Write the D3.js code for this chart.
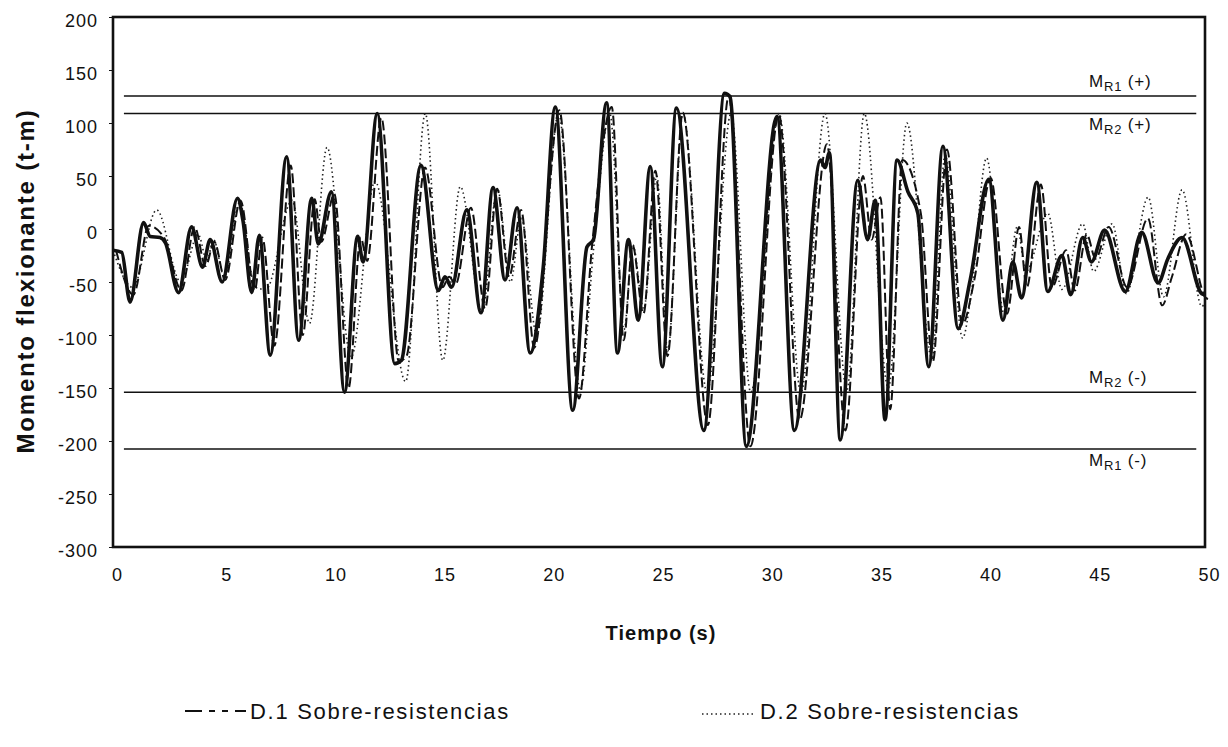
<!DOCTYPE html>
<html><head><meta charset="utf-8">
<script src="https://cdn.jsdelivr.net/npm/d3@7"></script>
<style>
body{margin:0;background:#fff;}
svg text{font-family:"Liberation Sans",Arial,Helvetica,sans-serif;fill:#111;}
</style>
</head><body>
<svg id="chart" width="1228" height="747"></svg>
<script>
// ---- data ----
const xTicks = [0,5,10,15,20,25,30,35,40,45,50];
const yTicks = [200,150,100,50,0,-50,-100,-150,-200,-250,-300];

// thick solid series
const timeA = [0,0.4,0.78,1.4,1.7,2.15,2.4,3.0,3.6,4.1,4.45,5.0,5.7,5.95,6.35,6.7,7.2,7.95,8.5,9.1,9.4,10.0,10.6,11.2,11.45,12.1,12.9,13.2,14.1,14.9,15.2,15.5,16.2,16.85,17.4,17.95,18.5,19.1,19.7,20.25,21.05,21.7,22.0,22.6,23.1,23.6,24.05,24.6,25.15,25.8,27.05,28.0,28.25,29.0,30.4,31.2,32.4,32.6,32.8,33.3,34.1,34.55,34.9,35.35,35.9,36.4,36.85,37.35,38.0,38.7,39.25,40.1,40.75,41.2,41.6,42.3,42.8,43.45,43.85,44.4,44.8,45.4,46.35,47.1,47.85,48.3,48.95,49.85,50];
const valA  = [-20,-22,-69,6,-7,-8,-13,-60,2,-36,-10,-50,29,8,-60,-6,-119,68,-105,29,-14,35,-154,-7,-31,109,-127,-124,60,-58,-45,-55,18,-79,39,-48,20,-117,-36,115,-171,-17,-10,119,-117,-10,-86,59,-130,114,-190,128,125,-205,106,-190,65,58,72,-199,46,-10,27,-180,65,35,15,-130,78,-94,-48,47,-86,-31,-65,44,-59,-25,-62,-8,-31,-1,-59,-3,-51,-28,-8,-61,-62];

// D.1 Sobre-resistencias (dashed)
const timeD1 = [0,0.8,1.5,2.2,3.0,3.6,4.1,4.5,5.0,5.7,6.35,6.7,7.25,8.0,8.55,9.1,9.4,10.0,10.65,11.2,11.5,12.15,12.95,13.3,14.15,14.95,15.25,15.55,16.25,16.9,17.45,18.0,18.55,19.15,20.3,21.2,21.8,22.7,23.25,23.65,24.15,24.7,25.25,25.95,27.1,28.05,29.05,30.35,31.3,32.55,33.4,34.2,34.6,35.0,35.45,36.0,36.85,37.4,38.05,38.75,39.3,40.05,40.8,41.35,41.7,42.35,42.85,43.5,43.9,44.45,44.85,45.45,46.3,47.25,47.9,48.35,49.0,49.9,50];
const valD1  = [-20,-62,3,-8,-58,2,-35,-12,-48,27,-58,-8,-110,60,-100,28,-12,33,-150,-8,-30,105,-125,-120,58,-55,-45,-52,20,-75,38,-45,18,-112,112,-160,-15,115,-105,-15,-80,55,-120,110,-185,125,-205,108,-180,80,-190,50,-10,30,-170,65,15,-125,75,-90,-48,48,-80,2,-55,42,-55,-20,-58,-5,-28,2,-55,10,-72,-45,-5,-65,-66];

// D.2 Sobre-resistencias (dotted)
const timeD2 = [0,0.9,2.0,3.1,3.9,4.3,4.6,5.1,5.8,6.5,7.0,8.2,9.0,9.8,10.9,12.0,13.4,14.3,15.1,15.9,16.9,17.6,18.2,18.7,19.4,20.4,21.4,22.0,22.75,23.4,23.8,24.3,24.9,25.4,26.1,27.2,28.3,29.2,30.5,31.5,32.6,33.6,34.4,35.5,36.35,37.5,38.1,38.9,39.3,40.0,40.8,41.4,41.8,42.8,43.45,44.4,44.9,45.75,46.4,47.4,48.1,48.95,49.85,50];
const valD2  = [-20,-55,18,-50,-5,-30,-10,-45,25,-55,-57,27,-89,77,-121,45,-144,109,-124,40,-78,38,-50,10,-100,109,-152,-20,109,-95,-15,-75,50,-115,109,-154,109,-154,109,-154,109,-152,109,-150,100,-122,70,-103,-60,67,-80,2,-40,15,-57,5,-40,5,-61,30,-64,37,-73,-70];

// resistance limits
const limitValues = [125.5, 109, -154, -207.5];
const limitSubs   = ["R1","R2","R2","R1"];
const limitSigns  = ["(+)","(+)","(-)","(-)"];
const limitLabelAbove = [true,false,true,false];
const limitStart = 0.5, limitEnd = 49.6;

const legendNames = ["D.1 Sobre-resistencias","D.2 Sobre-resistencias"];

// ---- drawing ----
const svg = d3.select("#chart");
svg.append("rect").attr("width",1228).attr("height",747).attr("fill","#fff");

const x = d3.scaleLinear().domain([0,50]).range([113,1205]);
const y = d3.scaleLinear().domain([-300,200]).range([547,17]);

const line = d3.line().x(d=>x(d[0])).y(d=>y(d[1])).curve(d3.curveMonotoneX);
const zip = (t,v)=>t.map((ti,i)=>[ti,v[i]]);

const plotG = svg.append("g");

// limit lines
limitValues.forEach((v)=>{
  plotG.append("line").attr("x1",x(limitStart)).attr("x2",x(limitEnd))
    .attr("y1",y(v)).attr("y2",y(v)).attr("stroke","#111").attr("stroke-width",1.6);
});

// series
plotG.append("path").attr("d",line(zip(timeD2,valD2))).attr("fill","none")
  .attr("stroke","#222").attr("stroke-width",1.6).attr("stroke-dasharray","1.5,3");
plotG.append("path").attr("d",line(zip(timeA,valA))).attr("fill","none")
  .attr("stroke","#111").attr("stroke-width",3.6).attr("stroke-linejoin","round");
plotG.append("path").attr("d",line(zip(timeD1,valD1))).attr("fill","none")
  .attr("stroke","#111").attr("stroke-width",2).attr("stroke-dasharray","10,4")
  .attr("transform","translate(3,0)");

// frame
svg.append("rect").attr("x",x(0)).attr("y",y(200)).attr("width",x(50)-x(0)).attr("height",y(-300)-y(200))
  .attr("fill","none").attr("stroke","#111").attr("stroke-width",2.6);

// y axis
const yAxis = d3.axisLeft(y).tickValues(yTicks).tickFormat(d=>String(d)).tickSize(4).tickPadding(11);
const gy = svg.append("g").attr("transform",`translate(${x(0)},0)`).call(yAxis);
gy.select(".domain").remove();
gy.selectAll("line").attr("stroke","#111");
gy.selectAll("text").style("font-size","18px").attr("letter-spacing","1px").attr("dy","0.5em").attr("fill","#111");

// x axis
const xAxis = d3.axisBottom(x).tickValues(xTicks).tickFormat(d=>String(d)).tickSize(0).tickPadding(21);
const gx = svg.append("g").attr("transform",`translate(0,${y(-300)})`).call(xAxis);
gx.select(".domain").remove();
gx.selectAll("text").attr("dx",4).style("font-size","18px").attr("letter-spacing","1px").attr("fill","#111");

// axis titles
svg.append("text").attr("transform","translate(34,281) rotate(-90)").attr("text-anchor","middle")
  .style("font-size","24px").style("font-weight","bold").attr("letter-spacing","1.8px").text("Momento flexionante (t-m)");
svg.append("text").attr("x",661).attr("y",640).attr("text-anchor","middle")
  .style("font-size","20px").style("font-weight","bold").attr("letter-spacing","1px").text("Tiempo (s)");

// limit labels
limitValues.forEach((v,i)=>{
  const by = limitLabelAbove[i] ? y(v)-9 : y(v)+17;
  const t = svg.append("text").attr("x",1089).attr("y",by).style("font-size","17px").attr("letter-spacing","0.8px");
  t.append("tspan").text("M");
  t.append("tspan").attr("dy",4).style("font-size","13px").text(limitSubs[i]);
  t.append("tspan").attr("dy",-4).text(" " + limitSigns[i]);
});

// legend
const lg = svg.append("g");
lg.append("line").attr("x1",185).attr("x2",246).attr("y1",711).attr("y2",711)
  .attr("stroke","#111").attr("stroke-width",2.2).attr("stroke-dasharray","17,7,6,7,6,7");
lg.append("text").attr("x",250).attr("y",719).style("font-size","22px").attr("letter-spacing","1.7px").text(legendNames[0]);
lg.append("line").attr("x1",702).attr("x2",756).attr("y1",714).attr("y2",714)
  .attr("stroke","#222").attr("stroke-width",1.5).attr("stroke-dasharray","1.5,3");
lg.append("text").attr("x",760).attr("y",719).style("font-size","22px").attr("letter-spacing","1.7px").text(legendNames[1]);
</script>
</body></html>
